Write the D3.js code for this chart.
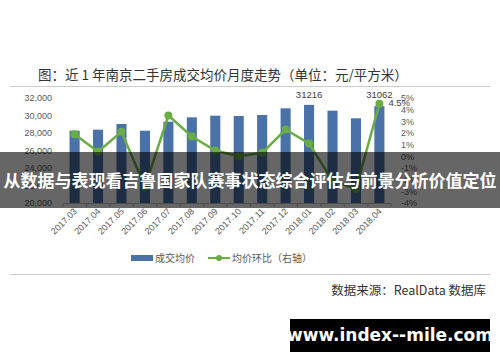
<!DOCTYPE html>
<html>
<head>
<meta charset="utf-8">
<script src="https://cdn.jsdelivr.net/npm/d3@7"></script>
<style>
  body { margin: 0; background: #fff; }
  svg { display: block; font-family: "Noto Sans CJK SC", "Microsoft YaHei", sans-serif; }
</style>
</head>
<body>
<div id="chart"></div>
<script>
const months = ["2017.03", "2017.04", "2017.05", "2017.06", "2017.07", "2017.08", "2017.09",
  "2017.10", "2017.11", "2017.12", "2018.01", "2018.02", "2018.03", "2018.04"]
const avgPrice = [28263, 28380, 29030, 28260, 29290, 29790, 29980, 29940, 30060, 30820, 31216, 30550, 29680, 31062]
const momChange = [1.9, 0.4, 2.1, -2.6, 3.5, 1.7, 0.5, 0.0, 0.3, 2.3, 1.1, -2.1, -2.8, 4.5]
const leftTicks = [20000, 22000, 24000, 26000, 28000, 30000, 32000]
const rightTicks = [-4, -3, -2, -1, 0, 1, 2, 3, 4, 5]
const priceLabels = { "2018.01": "31216", "2018.04": "31062" }

const width = 500
const height = 362
const barColor = "#4a72a8"
const lineColor = "#6aac46"

const svg = d3.select("#chart").append("svg")
  .attr("width", width)
  .attr("height", height)

// title and rules
svg.append("text")
  .attr("x", 38).attr("y", 80)
  .attr("font-size", 13.5)
  .attr("fill", "#333")
  .text("图：近 1 年南京二手房成交均价月度走势（单位：元/平方米）")

svg.append("line")
  .attr("x1", 10).attr("x2", 490).attr("y1", 86.5).attr("y2", 86.5)
  .attr("stroke", "#ccc")

var x = d3.scaleBand()
  .domain(months)
  .range([63, 391])
  .paddingInner(0.57)
  .paddingOuter(0.28)

var yLeft = d3.scaleLinear().domain([20000, 32000]).range([203, 98])
var yRight = d3.scaleLinear().domain([-4, 5]).range([203, 98])

// left axis
var leftAxis = svg.append("g")
  .attr("transform", "translate(55,0)")
  .call(d3.axisLeft(yLeft).tickValues(leftTicks).tickSize(0).tickFormat(d3.format(",")))
leftAxis.select(".domain").remove()
leftAxis.selectAll("text").attr("font-size", 9).attr("fill", "#595959").attr("font-family", "Liberation Sans, Arial, sans-serif")

// right axis
var rightAxis = svg.append("g")
  .attr("transform", "translate(398,0)")
  .call(d3.axisRight(yRight).tickValues(rightTicks).tickSize(0).tickFormat(function (d) { return d + "%" }))
rightAxis.select(".domain").remove()
rightAxis.selectAll("text").attr("font-size", 9).attr("fill", "#595959").attr("font-family", "Liberation Sans, Arial, sans-serif")

// bars
svg.append("g")
  .selectAll("rect")
  .data(months)
  .enter().append("rect")
    .attr("x", function (d) { return x(d) })
    .attr("width", x.bandwidth())
    .attr("y", function (d, i) { return yLeft(avgPrice[i]) })
    .attr("height", function (d, i) { return yLeft(20000) - yLeft(avgPrice[i]) })
    .attr("fill", barColor)

// bottom axis
var step = x.step()
var bottom = svg.append("g")
bottom.append("line")
  .attr("x1", x.range()[0]).attr("x2", x.range()[1])
  .attr("y1", 203.5).attr("y2", 203.5)
  .attr("stroke", "#bfbfbf")
bottom.selectAll(".tick")
  .data(d3.range(months.length + 1))
  .enter().append("line")
    .attr("x1", function (i) { return x.range()[0] + i * step })
    .attr("x2", function (i) { return x.range()[0] + i * step })
    .attr("y1", 203.5).attr("y2", 207)
    .attr("stroke", "#bfbfbf")

bottom.selectAll("text")
  .data(months)
  .enter().append("text")
    .attr("transform", function (d) {
      return "translate(" + (x(d) + x.bandwidth() / 2 + 3) + ",212) rotate(-45)"
    })
    .attr("text-anchor", "end")
    .attr("font-size", 9)
    .attr("fill", "#595959")
    .attr("font-family", "Liberation Sans, Arial, sans-serif")
    .text(function (d) { return d })

// line
var cx = function (d, i) { return x(months[i]) + x.bandwidth() / 2 }
var line = d3.line()
  .x(function (d, i) { return cx(d, i) })
  .y(function (d) { return yRight(d) })

svg.append("path")
  .datum(momChange)
  .attr("d", line)
  .attr("fill", "none")
  .attr("stroke", lineColor)
  .attr("stroke-width", 2.5)

svg.append("g")
  .selectAll("circle")
  .data(momChange)
  .enter().append("circle")
    .attr("cx", cx)
    .attr("cy", function (d) { return yRight(d) })
    .attr("r", 4)
    .attr("fill", lineColor)

// data labels
months.forEach(function (m, i) {
  if (priceLabels[m]) {
    svg.append("text")
      .attr("x", x(m) + x.bandwidth() / 2)
      .attr("y", 98)
      .attr("text-anchor", "middle")
      .attr("font-size", 9.5)
      .attr("fill", "#404040")
      .attr("font-family", "Liberation Sans, Arial, sans-serif")
      .text(priceLabels[m])
  }
})
var last = momChange.length - 1
svg.append("text")
  .attr("x", cx(null, last) + 9)
  .attr("y", yRight(momChange[last]) + 2)
  .attr("font-size", 9.5)
  .attr("fill", "#404040")
  .attr("font-family", "Liberation Sans, Arial, sans-serif")
  .text(momChange[last] + "%")

// legend
var legend = svg.append("g").attr("font-size", 10).attr("fill", "#595959")
legend.append("rect").attr("x", 131).attr("y", 255).attr("width", 22).attr("height", 6).attr("fill", barColor)
legend.append("text").attr("x", 155).attr("y", 262).text("成交均价")
legend.append("line").attr("x1", 208).attr("x2", 230).attr("y1", 258).attr("y2", 258)
  .attr("stroke", lineColor).attr("stroke-width", 2)
legend.append("circle").attr("cx", 219).attr("cy", 258).attr("r", 3).attr("fill", lineColor)
legend.append("text").attr("x", 232).attr("y", 262).text("均价环比（右轴）")

svg.append("line")
  .attr("x1", 10).attr("x2", 490).attr("y1", 274.5).attr("y2", 274.5)
  .attr("stroke", "#ccc")

svg.append("text")
  .attr("x", 486).attr("y", 295)
  .attr("text-anchor", "end")
  .attr("font-size", 12.5)
  .attr("fill", "#333")
  .text("数据来源：RealData 数据库")

// overlay banner
svg.append("rect")
  .attr("x", 0).attr("y", 152).attr("width", width).attr("height", 56)
  .attr("fill", "rgba(0,0,0,0.6)")
svg.append("text")
  .attr("x", width / 2).attr("y", 187)
  .attr("text-anchor", "middle")
  .attr("font-size", 17)
  .attr("font-weight", "bold")
  .attr("fill", "#fff")
  .text("从数据与表现看吉鲁国家队赛事状态综合评估与前景分析价值定位")

// watermark box
svg.append("rect")
  .attr("x", 290).attr("y", 319).attr("width", 200).attr("height", 33)
  .attr("fill", "#000")
svg.append("text")
  .attr("x", 390).attr("y", 341)
  .attr("text-anchor", "middle")
  .attr("font-size", 17)
  .attr("font-weight", "bold")
  .attr("fill", "#fff")
  .attr("font-family", "DejaVu Sans, sans-serif")
  .text("www.index--mile.com")
</script>
</body>
</html>
